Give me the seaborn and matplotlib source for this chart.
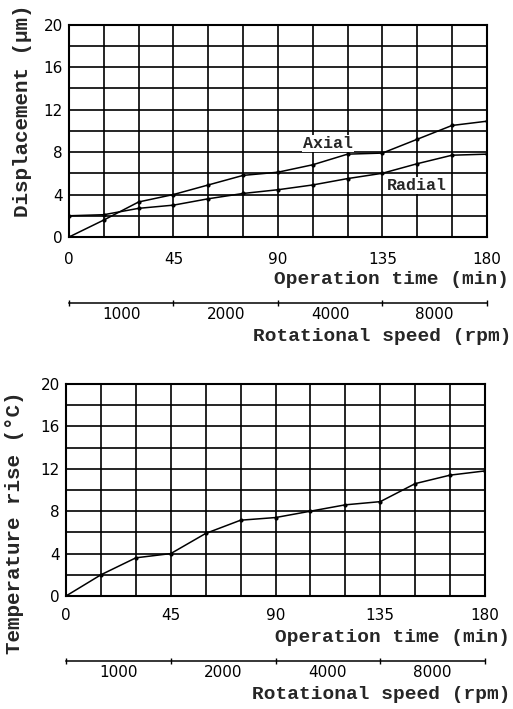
import matplotlib
matplotlib.use('Agg')
import matplotlib.pyplot as plt
import seaborn as sns
import pandas as pd
import numpy as np

# data (every 15 min)
time_min = [0, 15, 30, 45, 60, 75, 90, 105, 120, 135, 150, 165, 180]
axial = [0, 1.6, 3.3, 4.0, 4.9, 5.8, 6.1, 6.8, 7.8, 7.9, 9.2, 10.5, 10.9]
radial = [2.0, 2.1, 2.7, 3.0, 3.6, 4.1, 4.45, 4.9, 5.5, 6.0, 6.9, 7.7, 7.8]
temp_rise = [0, 2.0, 3.6, 4.0, 5.9, 7.15, 7.4, 8.0, 8.6, 8.9, 10.6, 11.4, 11.8]

speed_labels = ['1000', '2000', '4000', '8000']
time_ticks = [0, 45, 90, 135, 180]

sns.set_theme(style='white')
plt.rcParams['font.family'] = ['DejaVu Sans']

mono = 'Liberation Mono'

fig = plt.figure(figsize=(5.13, 7.09), dpi=100)
ax1 = fig.add_axes([0.1345, 0.6657, 0.8145, 0.2997])
ax2 = fig.add_axes([0.1287, 0.1594, 0.8167, 0.2990])

df1 = pd.DataFrame({'time': time_min, 'Axial': axial, 'Radial': radial})
sns.lineplot(data=df1, x='time', y='Axial', ax=ax1, color='black', lw=1.1,
             marker='o', markersize=3, markeredgewidth=0)
sns.lineplot(data=df1, x='time', y='Radial', ax=ax1, color='black', lw=1.1,
             marker='o', markersize=3, markeredgewidth=0)

df2 = pd.DataFrame({'time': time_min, 'temp': temp_rise})
sns.lineplot(data=df2, x='time', y='temp', ax=ax2, color='black', lw=1.1,
             marker='o', markersize=3, markeredgewidth=0)


def style_axis(ax, ylabel, ylab_xy, xpad, op_xy, rot_xy, sec_loc):
    ax.set_xlim(0, 180)
    ax.set_ylim(0, 20)
    ax.set_xticks(time_ticks)
    ax.set_xticks(np.arange(0, 181, 15), minor=True)
    ax.set_yticks(np.arange(0, 21, 4))
    ax.set_yticks(np.arange(0, 21, 2), minor=True)
    ax.grid(True, which='both', color='black', lw=1.2)
    ax.tick_params(which='both', length=0, labelsize=11, colors='black')
    ax.tick_params(axis='x', pad=xpad)
    ax.tick_params(axis='y', pad=4.3)
    for sp in ax.spines.values():
        sp.set_color('black')
        sp.set_linewidth(1.5)
    ax.set_xlabel('Operation time (min)', loc='right', family=mono,
                  fontweight='bold', fontsize=14)
    ax.xaxis.label.set_va('center')
    ax.xaxis.set_label_coords(*op_xy)
    ax.set_ylabel(ylabel, family=mono, fontweight='bold', fontsize=15)
    ax.yaxis.label.set_va('center')
    ax.yaxis.set_label_coords(*ylab_xy)

    sec = ax.secondary_xaxis(sec_loc)
    sec.set_xticks(time_ticks, labels=[''] * len(time_ticks))
    sec.set_xticks([22.5, 67.5, 112.5, 157.5], labels=speed_labels, minor=True)
    sec.tick_params(which='major', direction='inout', length=5, width=1, colors='black')
    sec.tick_params(which='minor', length=0, labelsize=11, pad=2.5, colors='black')
    sec.spines['bottom'].set_color('black')
    sec.spines['bottom'].set_linewidth(1.1)
    sec.set_xlabel('Rotational speed (rpm)', loc='right', family=mono,
                   fontweight='bold', fontsize=14)
    sec.xaxis.label.set_va('center')
    sec.xaxis.set_label_coords(*rot_xy, transform=ax.transAxes)


style_axis(ax1, 'Displacement (μm)', (-0.111, 0.593), 10.5,
           (1.052, -0.202), (1.058, -0.466), -0.311)
style_axis(ax2, 'Temperature rise (°C)', (-0.123, 0.344), 8.5,
           (1.060, -0.198), (1.060, -0.467), -0.307)

box = dict(facecolor='white', edgecolor='none', pad=0.5)
ax1.text(100.8, 8.8, 'Axial', ha='left', va='center', family=mono,
         fontweight='bold', fontsize=12, bbox=box)
ax1.text(137, 4.85, 'Radial', ha='left', va='center', family=mono,
         fontweight='bold', fontsize=12, bbox=box)

fig.savefig('out.png', dpi=100)
